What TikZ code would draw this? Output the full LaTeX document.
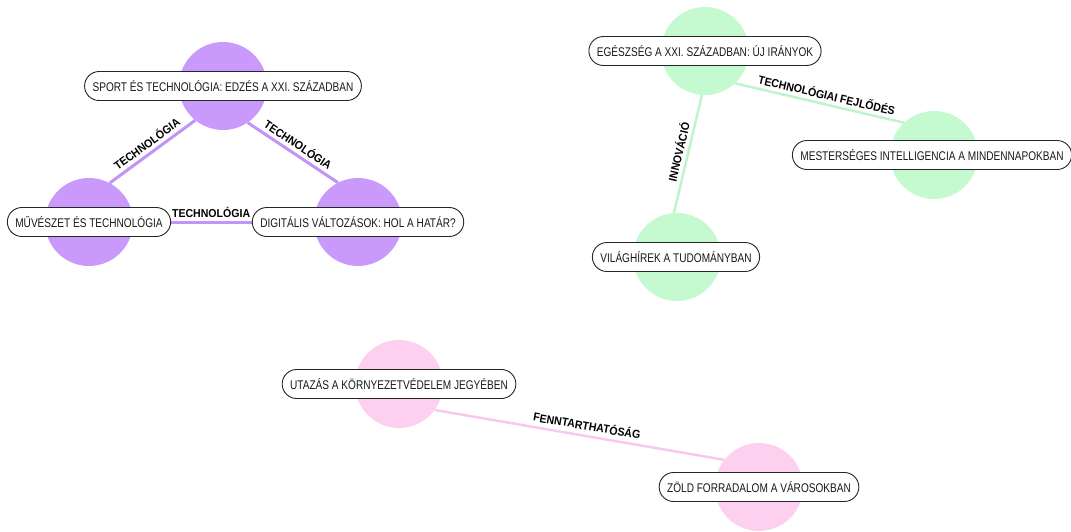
\documentclass[tikz,border=0pt]{standalone}
\usepackage{fontspec}
\setmainfont{Liberation Sans}
\newfontfamily\labfont[FakeStretch=0.8]{Liberation Sans}
\newfontfamily\edgefont[FakeStretch=0.92]{Liberation Sans}
\definecolor{purp}{HTML}{C99AFB}
\definecolor{purpline}{HTML}{C293F8}
\definecolor{grn}{HTML}{C5FAD0}
\definecolor{grnline}{HTML}{BDF5C8}
\definecolor{pnk}{HTML}{FDD0F0}
\definecolor{pnkline}{HTML}{FAC8EC}
\pgfdeclarelayer{bg}
\pgfsetlayers{bg,main}
\tikzset{
  blob/.style={circle, minimum size=88pt, inner sep=0pt, draw=none},
  topic/.style={draw=black!85, line width=0.9pt, fill=white, rounded corners=14.5pt,
    minimum height=29pt, inner xsep=8pt, inner ysep=0pt, text=black!90,
    font=\labfont\fontsize{12.6}{14}\selectfont},
  link/.style={line width=2.5pt},
  elab/.style={font=\edgefont\bfseries\fontsize{11.5}{13}\selectfont, text=black,
    sloped, above, inner sep=3.5pt}
}
\begin{document}
\begin{tikzpicture}[x=1pt,y=-1pt]
\useasboundingbox (0,0) rectangle (1071,532);
% circles
\node[blob, fill=purp] (cSport) at (223,86) {};
\node[blob, fill=purp] (cArt) at (89,222) {};
\node[blob, fill=purp] (cDig) at (358,222) {};
\node[blob, fill=grn] (cHealth) at (705,51) {};
\node[blob, fill=grn] (cAI) at (934,155) {};
\node[blob, fill=grn] (cNews) at (677,257) {};
\node[blob, fill=pnk] (cTravel) at (399,384) {};
\node[blob, fill=pnk] (cGreen) at (759,487) {};
% connectors
\begin{pgfonlayer}{bg}
\draw[link, purpline, line width=3pt] (cArt.62) -- (cSport.231) node[midway, elab] {TECHNOLÓGIA};
\draw[link, purpline, line width=3pt] (cSport.-56) -- (cDig.117) node[midway, elab] {TECHNOLÓGIA};
\draw[link, purpline, line width=3pt] (cArt.center) -- (cDig.center) node[pos=0.454, elab, inner sep=2.5pt] {TECHNOLÓGIA};
\draw[link, grnline] (cHealth.-47) -- (cAI.133) node[pos=0.53, elab] {TECHNOLÓGIAI FEJLŐDÉS};
\draw[link, grnline] (cNews.94) -- (cHealth.-94) node[midway, elab] {INNOVÁCIÓ};
\draw[link, pnkline] (cTravel.-36) -- (cGreen.142) node[pos=0.52, elab, inner sep=4.5pt] {FENNTARTHATÓSÁG};
\end{pgfonlayer}
% topic labels
\node[topic] (tSport) at (223,86) {SPORT ÉS TECHNOLÓGIA: EDZÉS A XXI. SZÁZADBAN};
\node[topic] (tArt) at (89,222) {MŰVÉSZET ÉS TECHNOLÓGIA};
\node[topic] (tDig) at (358,222) {DIGITÁLIS VÁLTOZÁSOK: HOL A HATÁR?};
\node[topic] (tHealth) at (705,51) {EGÉSZSÉG A XXI. SZÁZADBAN: ÚJ IRÁNYOK};
\node[topic] (tAI) at (932,155) {MESTERSÉGES INTELLIGENCIA A MINDENNAPOKBAN};
\node[topic] (tNews) at (676,257) {VILÁGHÍREK A TUDOMÁNYBAN};
\node[topic] (tTravel) at (399,384) {UTAZÁS A KÖRNYEZETVÉDELEM JEGYÉBEN};
\node[topic] (tGreen) at (759,487) {ZÖLD FORRADALOM A VÁROSOKBAN};
\end{tikzpicture}
\end{document}
